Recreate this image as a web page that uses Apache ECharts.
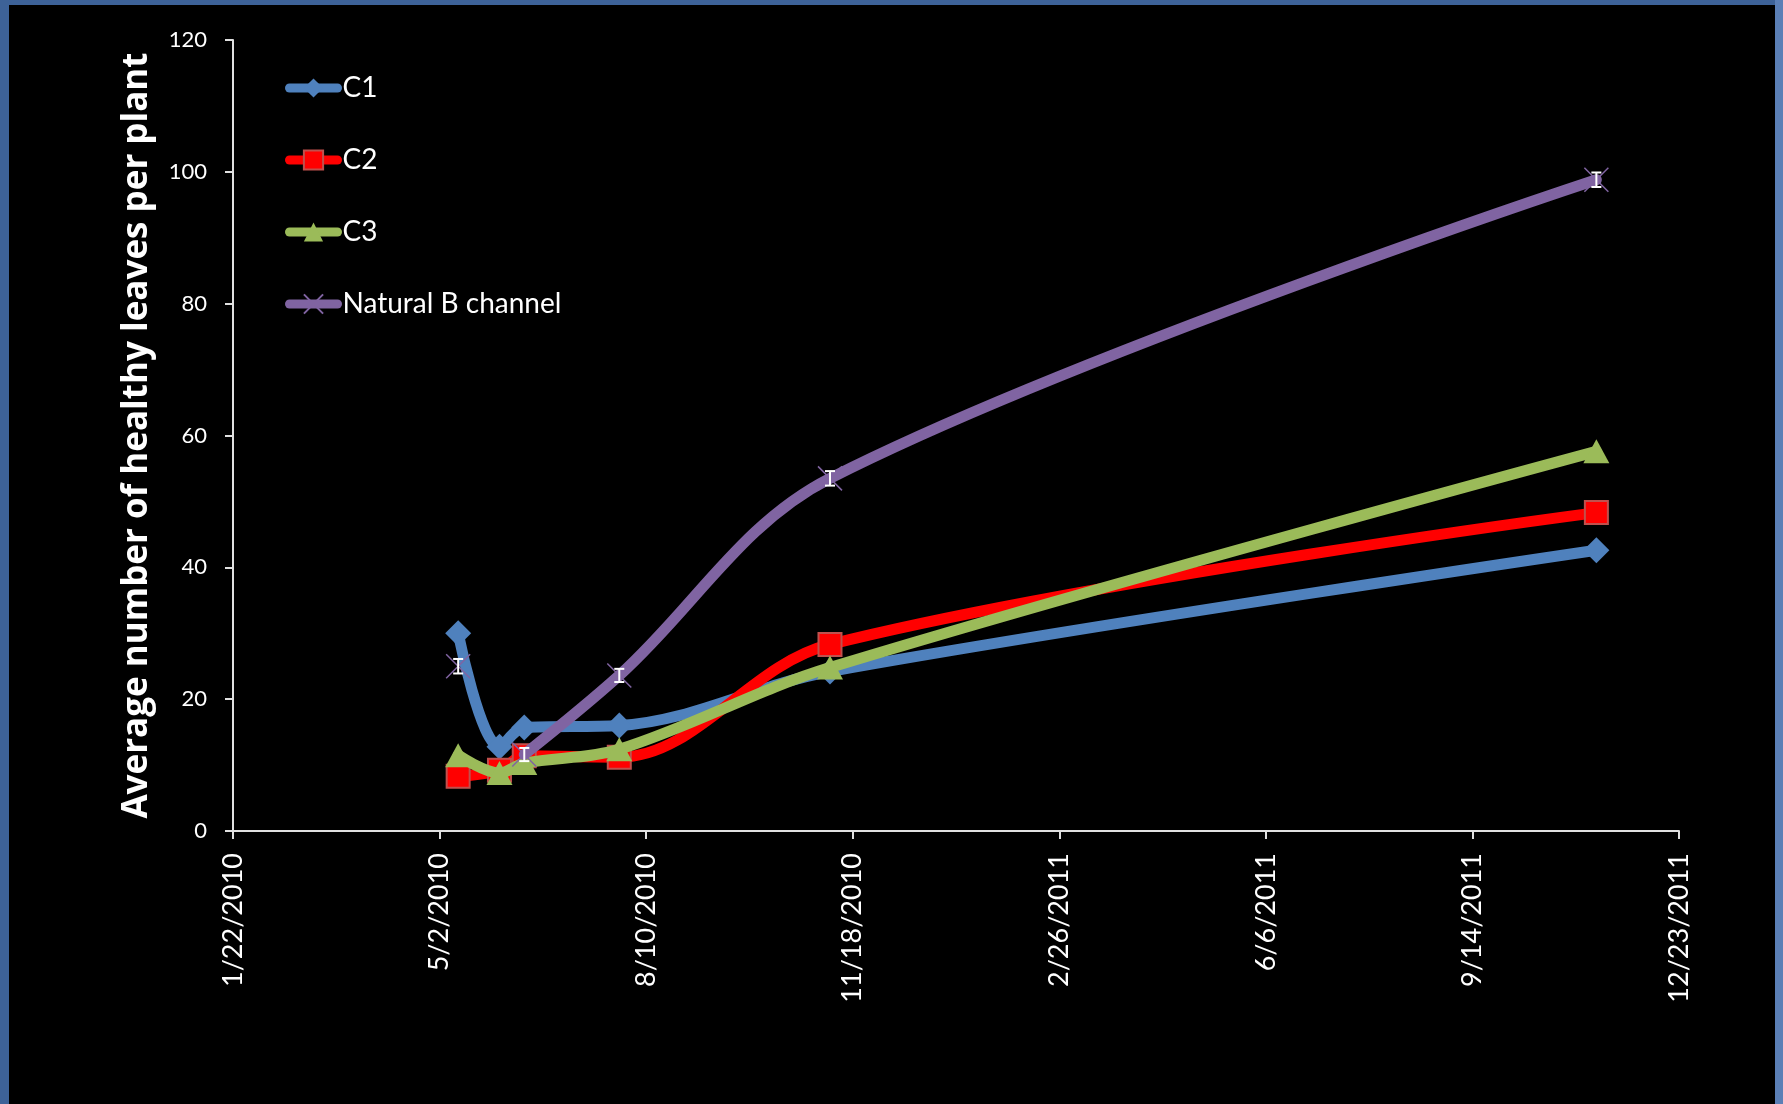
<!DOCTYPE html>
<html><head><meta charset="utf-8">
<script src="https://cdn.jsdelivr.net/npm/echarts@6/dist/echarts.min.js"></script>
<style>html,body{margin:0;padding:0;background:#000;} #c{width:1783px;height:1104px;}</style>
</head><body><div id="c"></div>
<script>
// ---- data ----
const dates = ['5/11/2010', '5/31/2010', '6/12/2010', '7/28/2010', '11/7/2010', '11/13/2011'];
const c1 = [30.0, 12.8, 15.7, 16.0, 24.2, 42.6];
const c2 = [8.3, 9.2, 11.4, 11.2, 28.3, 48.3];
const c3 = [11.5, 8.8, 10.3, 12.4, 24.8, 57.6];
const nb = [25.0, null, 11.6, 23.6, 53.5, 98.8];
const nbErr = [1.1, null, 1.0, 1.0, 1.1, 1.1];
const seriesNames = ['C1', 'C2', 'C3', 'Natural B channel'];
const xTickLabels = ['1/22/2010', '5/2/2010', '8/10/2010', '11/18/2010', '2/26/2011', '6/6/2011', '9/14/2011', '12/23/2011'];
const yTicks = [0, 20, 40, 60, 80, 100, 120];
const yTitle = 'Average number of healthy leaves per plant';

// Excel-style date serial
function serial(s) {
  const [m, d, y] = s.split('/').map(Number);
  return Math.round((Date.UTC(y, m - 1, d) - Date.UTC(1899, 11, 30)) / 864e5);
}
const xMin = serial(xTickLabels[0]);
const xStep = serial(xTickLabels[1]) - xMin;
const xMax = serial(xTickLabels[xTickLabels.length - 1]);

function pairs(vals) {
  return dates.map((d, i) => [serial(d), vals[i] == null ? '-' : vals[i]]);
}

const FONT = 'Lato';
const chart = echarts.init(document.getElementById('c'), null, {renderer: 'canvas'});

function lineSeries(name, vals, color, symbol, size, itemStyle, z) {
  return {
    type: 'line', name: name, data: pairs(vals), smooth: 0.35,
    symbol: symbol, symbolSize: size, showAllSymbol: true, connectNulls: false,
    lineStyle: {color: color, width: 11, cap: 'round', join: 'round'},
    itemStyle: itemStyle, z: z, animation: false
  };
}

const errData = dates.map((d, i) => nbErr[i] == null ? null : [serial(d), nb[i] - nbErr[i], nb[i] + nbErr[i]]).filter(Boolean);

const option = {
  backgroundColor: '#000',
  animation: false,
  graphic: [
    {type: 'rect', shape: {x: 0, y: 0, width: 9, height: 1104}, style: {fill: '#3d6298'}, z: 100},
    {type: 'rect', shape: {x: 0, y: 0, width: 1783, height: 5}, style: {fill: '#3d6298'}, z: 100},
    {type: 'rect', shape: {x: 1775, y: 0, width: 8, height: 1104}, style: {fill: '#5b7fb6'}, z: 100}
  ],
  grid: {left: 233, right: 104, top: 40, bottom: 273, containLabel: false},
  legend: {
    orient: 'vertical', left: 285, top: 74, padding: 0, itemWidth: 48, itemHeight: 24, itemGap: 44,
    data: seriesNames,
    lineStyle: {width: 9, cap: 'round'},
    textStyle: {color: '#fff', fontFamily: FONT, fontSize: 28, lineHeight: 28}
  },
  xAxis: {
    type: 'value', min: xMin, max: xMax, interval: xStep,
    splitLine: {show: false},
    axisLine: {lineStyle: {color: '#e0e0e0', width: 2}},
    axisTick: {show: true, length: 8, lineStyle: {color: '#e0e0e0', width: 2}},
    axisLabel: {
      color: '#fff', fontFamily: FONT, fontSize: 27, rotate: 90, margin: 22,
      formatter: v => xTickLabels[Math.round((v - xMin) / xStep)] || ''
    }
  },
  yAxis: {
    type: 'value', min: yTicks[0], max: yTicks[yTicks.length - 1], interval: yTicks[1] - yTicks[0],
    splitLine: {show: false},
    axisLine: {show: true, lineStyle: {color: '#e0e0e0', width: 2}},
    axisTick: {show: true, length: 8, lineStyle: {color: '#e0e0e0', width: 2}},
    axisLabel: {color: '#fff', fontFamily: FONT, fontSize: 22, margin: 26},
    name: yTitle, nameLocation: 'middle', nameGap: 78, nameRotate: 90,
    nameTextStyle: {color: '#fff', fontFamily: 'Open Sans', fontWeight: 'bold', fontSize: 35}
  },
  series: [
    lineSeries(seriesNames[0], c1, '#4F81BD', 'diamond', [26, 26], {color: '#4F81BD'}, 2),
    lineSeries(seriesNames[1], c2, '#FF0000', 'rect', [23, 23], {color: '#FF0000', borderColor: '#C0504D', borderWidth: 2}, 3),
    lineSeries(seriesNames[2], c3, '#9BBB59', 'triangle', [26, 24], {color: '#9BBB59'}, 4),
    lineSeries(seriesNames[3], nb, '#8064A2', 'path://M0,0L10,10M10,0L0,10', [24, 24], {color: 'rgba(0,0,0,0)', borderColor: '#8064A2', borderWidth: 1.5}, 5),
    {
      type: 'custom', name: 'err', data: errData, z: 10, silent: true,
      encode: {x: 0, y: [1, 2]},
      renderItem: function (params, api) {
        const x = api.value(0);
        const lo = api.coord([x, api.value(1)]);
        const hi = api.coord([x, api.value(2)]);
        const w = 5;
        const st = {stroke: '#fff', lineWidth: 2};
        return {type: 'group', children: [
          {type: 'line', shape: {x1: lo[0], y1: lo[1], x2: hi[0], y2: hi[1]}, style: st},
          {type: 'line', shape: {x1: lo[0] - w, y1: lo[1], x2: lo[0] + w, y2: lo[1]}, style: st},
          {type: 'line', shape: {x1: hi[0] - w, y1: hi[1], x2: hi[0] + w, y2: hi[1]}, style: st}
        ]};
      }
    }
  ]
};
chart.setOption(option);
</script>
</body></html>
